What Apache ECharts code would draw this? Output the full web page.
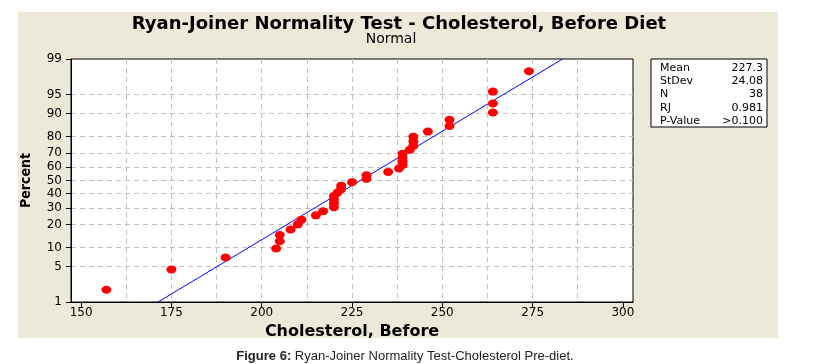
<!DOCTYPE html>
<html>
<head>
<meta charset="utf-8">
<title>Ryan-Joiner Normality Test - Cholesterol, Before Diet</title>
<script src="https://cdn.jsdelivr.net/npm/echarts@6/dist/echarts.min.js"></script>
<style>
html, body { margin: 0; padding: 0; background: #fff; }
#chart { width: 817px; height: 364px; }
</style>
</head>
<body>
<div id="chart"></div>
<script>
// cholesterol values (sorted) and their plotted percent (median ranks)
var cholesterol = [157, 175, 190, 204, 205, 205, 208, 210, 211, 215, 217, 220, 220, 220, 220, 221, 222, 222, 225,
    229, 229, 235, 238, 239, 239, 239, 239, 241, 242, 242, 242, 246, 252, 252, 264, 264, 264, 274];
var percent = [1.82, 4.43, 7.03, 9.64, 12.24, 14.84, 17.45, 20.05, 22.66, 25.26, 27.86, 30.47, 33.07, 35.68, 38.28,
    40.89, 43.49, 46.09, 48.70, 51.30, 53.91, 56.51, 59.11, 61.72, 64.32, 66.93, 69.53, 72.14, 74.74, 77.34, 79.95,
    82.55, 85.16, 87.76, 90.36, 92.97, 95.57, 98.18];
// fitted normal line end points
var fitX = [171.3, 283.3];
var fitPct = [1, 99];
// axis ticks
var xTicks = [150, 175, 200, 225, 250, 275, 300];
var xGridLines = [150, 162.5, 175, 187.5, 200, 212.5, 225, 237.5, 250, 262.5, 275, 287.5, 300];
var pctTicks = [1, 5, 10, 20, 30, 40, 50, 60, 70, 80, 90, 95, 99];
// stats box
var statNames = ['Mean', 'StDev', 'N', 'RJ', 'P-Value'];
var statValues = ['227.3', '24.08', '38', '0.981', '>0.100'];

// inverse normal cdf (probability scale)
function probit(p) {
    var a = [-3.969683028665376e+01, 2.209460984245205e+02, -2.759285104469687e+02, 1.383577518672690e+02, -3.066479806614716e+01, 2.506628277459239e+00];
    var b = [-5.447609879822406e+01, 1.615858368580409e+02, -1.556989798598866e+02, 6.680131188771972e+01, -1.328068155288572e+01];
    var c = [-7.784894002430293e-03, -3.223964580411365e-01, -2.400758277161838e+00, -2.549732539343734e+00, 4.374664141464968e+00, 2.938163982698783e+00];
    var d = [7.784695709041462e-03, 3.224671290700398e-01, 2.445134137142996e+00, 3.754408661907416e+00];
    var plow = 0.02425, q, r;
    if (p < plow) {
        q = Math.sqrt(-2 * Math.log(p));
        return (((((c[0] * q + c[1]) * q + c[2]) * q + c[3]) * q + c[4]) * q + c[5]) /
            ((((d[0] * q + d[1]) * q + d[2]) * q + d[3]) * q + 1);
    }
    if (p <= 1 - plow) {
        q = p - 0.5;
        r = q * q;
        return (((((a[0] * r + a[1]) * r + a[2]) * r + a[3]) * r + a[4]) * r + a[5]) * q /
            (((((b[0] * r + b[1]) * r + b[2]) * r + b[3]) * r + b[4]) * r + 1);
    }
    q = Math.sqrt(-2 * Math.log(1 - p));
    return -(((((c[0] * q + c[1]) * q + c[2]) * q + c[3]) * q + c[4]) * q + c[5]) /
        ((((d[0] * q + d[1]) * q + d[2]) * q + d[3]) * q + 1);
}

var zTicks = pctTicks.map(function (p) { return probit(p / 100); });
var zMin = zTicks[0];
var zMax = zTicks[zTicks.length - 1];

var points = cholesterol.map(function (x, i) { return [x, probit(percent[i] / 100)]; });
var fitLine = fitX.map(function (x, i) { return [x, probit(fitPct[i] / 100)]; });

var fontMain = 'DejaVu Sans, Verdana, sans-serif';
var fontCond = 'DejaVu Sans Condensed, DejaVu Sans, sans-serif';
var gridColor = '#c0c0c0';

var boxLeft = 651, boxTop = 59, boxW = 116, boxH = 68;
var statGraphics = [{
    type: 'rect',
    shape: { x: boxLeft, y: boxTop, width: boxW, height: boxH },
    style: { fill: '#fff', stroke: '#000', lineWidth: 1 },
    z: 10
}];
statNames.forEach(function (name, i) {
    var yy = boxTop + 9 + i * 13.3;
    statGraphics.push({
        type: 'text', z: 11,
        style: { text: name, x: boxLeft + 9, y: yy, fill: '#000', font: '11px ' + fontMain, verticalAlign: 'middle', align: 'left' }
    });
    statGraphics.push({
        type: 'text', z: 11,
        style: { text: statValues[i], x: boxLeft + boxW - 4, y: yy, fill: '#000', font: '11px ' + fontMain, verticalAlign: 'middle', align: 'right' }
    });
});

var myChart = echarts.init(document.getElementById('chart'), null, { renderer: 'canvas' });
var option = {
    backgroundColor: '#fff',
    animation: false,
    title: [{
        text: 'Ryan-Joiner Normality Test - Cholesterol, Before Diet',
        left: 394, top: 10, textAlign: 'center',
        textStyle: { fontFamily: fontMain, fontSize: 18, fontWeight: 'bold', color: '#000' }
    }, {
        text: 'Normal',
        left: 386, top: 27, textAlign: 'center',
        textStyle: { fontFamily: fontMain, fontSize: 14, fontWeight: 'normal', color: '#000' }
    }, {
        text: '{b|Figure 6:} Ryan-Joiner Normality Test-Cholesterol Pre-diet.',
        left: 400, top: 345, textAlign: 'center',
        textStyle: {
            fontFamily: 'Liberation Sans, Arial, sans-serif', fontSize: 13, fontWeight: 'normal', color: '#222',
            rich: { b: { fontFamily: 'Liberation Sans, Arial, sans-serif', fontSize: 13, fontWeight: 'bold', color: '#222' } }
        }
    }],
    graphic: [{
        type: 'rect', z: -10, silent: true,
        shape: { x: 18, y: 12, width: 760, height: 326 },
        style: { fill: '#ECE9D8' }
    }].concat(statGraphics),
    grid: {
        left: 71, right: 184, top: 59, bottom: 62,
        show: true, backgroundColor: '#fff', borderColor: '#000', borderWidth: 1
    },
    xAxis: [{
        type: 'value', min: 147.2, max: 302.8,
        name: 'Cholesterol, Before', nameLocation: 'middle', nameGap: 21,
        nameTextStyle: { fontFamily: fontMain, fontSize: 16, fontWeight: 'bold', color: '#000' },
        axisLine: { show: true, onZero: false, lineStyle: { color: '#000', width: 1 } },
        axisTick: { show: true, length: 5, customValues: xTicks, lineStyle: { color: '#000' } },
        axisLabel: { customValues: xTicks, margin: 5, fontFamily: fontMain, fontSize: 12, color: '#000' },
        splitLine: { show: false }
    }, {
        type: 'value', min: 147.2, max: 302.8, position: 'bottom',
        axisLine: { show: false, onZero: false },
        axisTick: { show: false, customValues: xGridLines },
        axisLabel: { show: false },
        splitLine: { show: true, showMinLine: false, showMaxLine: false, lineStyle: { color: gridColor, type: [5, 4], width: 1 } }
    }],
    yAxis: {
        type: 'value', min: zMin, max: zMax,
        name: 'Percent', nameLocation: 'middle', nameGap: 38, nameRotate: 90,
        nameTextStyle: { fontFamily: fontCond, fontSize: 14, fontWeight: 'bold', color: '#000' },
        axisLine: { show: true, onZero: false, lineStyle: { color: '#000', width: 1 } },
        axisTick: { show: true, length: 5, customValues: zTicks, lineStyle: { color: '#000' } },
        axisLabel: {
            customValues: zTicks, margin: 9, fontFamily: fontMain, fontSize: 12, color: '#000',
            formatter: function (v) {
                for (var i = 0; i < zTicks.length; i++) {
                    if (Math.abs(zTicks[i] - v) < 1e-6) return String(pctTicks[i]);
                }
                return '';
            }
        },
        splitLine: { show: true, showMinLine: false, showMaxLine: false, lineStyle: { color: gridColor, type: [5, 4], width: 1 } }
    },
    series: [{
        name: 'Fit',
        type: 'line',
        data: fitLine,
        symbol: 'none',
        lineStyle: { color: '#0000FF', width: 1 },
        z: 3
    }, {
        name: 'Cholesterol, Before',
        type: 'scatter',
        data: points,
        symbol: 'circle',
        symbolSize: [10, 8],
        itemStyle: { color: '#FF0000', opacity: 1 },
        z: 4
    }]
};
myChart.setOption(option);
</script>
</body>
</html>
